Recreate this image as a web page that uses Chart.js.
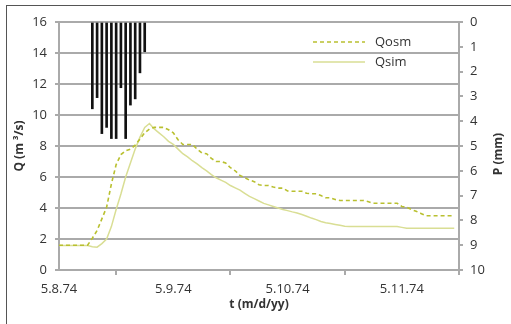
<!DOCTYPE html>
<html>
<head>
<meta charset="utf-8">
<script src="https://cdn.jsdelivr.net/npm/chart.js@4.4.0/dist/chart.umd.min.js"></script>
<style>
  body { margin: 0; background: #fff; }
  #wrap { position: relative; width: 511px; height: 324px; overflow: hidden; }
  #frame { position: absolute; left: 6px; top: 5px; width: 600px; height: 400px;
           border-top: 1px solid #555; border-left: 1px solid #555; }
  #c { position: absolute; left: 0; top: 0; }
</style>
</head>
<body>
<div id="wrap">
  <div id="frame"></div>
  <canvas id="c" width="511" height="324"></canvas>
</div>
<script>
// hours since 5.8.74 00:00
const hours = [0, 1, 2, 3, 4, 5, 6, 7, 8, 9, 10, 11, 12, 13, 14, 15, 16, 17, 18, 19,
  20, 21, 22, 23, 24, 25, 26, 27, 28, 29, 30, 31, 32, 33, 34, 35, 36, 37, 38, 39,
  40, 41, 42, 43, 44, 45, 46, 47, 48, 49, 50, 51, 52, 53, 54, 55, 56, 57, 58, 59,
  60, 61, 62, 63, 64, 65, 66, 67, 68, 69, 70, 71, 72, 73, 74, 75, 76, 77, 78, 79,
  80, 81, 82, 83];

const qosm = [1.6, 1.6, 1.6, 1.6, 1.6, 1.6, 1.6, 2.05, 2.55, 3.3,
  4.05, 5.55, 6.8, 7.45, 7.7, 7.8, 8.05, 8.45, 8.85, 9.1,
  9.2, 9.2, 9.2, 9.05, 8.85, 8.4, 8.1, 8.1, 8.1, 7.8,
  7.55, 7.5, 7.2, 7.0, 7.0, 6.9, 6.6, 6.4, 6.1, 5.95,
  5.8, 5.7, 5.5, 5.45, 5.45, 5.35, 5.28, 5.28, 5.1, 5.08,
  5.08, 5.08, 4.95, 4.92, 4.92, 4.8, 4.66, 4.66, 4.55, 4.48,
  4.48, 4.48, 4.48, 4.48, 4.48, 4.4, 4.31, 4.31, 4.31, 4.31,
  4.31, 4.31, 4.1, 4.05, 3.9, 3.79, 3.65, 3.5, 3.5, 3.5,
  3.5, 3.5, 3.5, 3.5];

const qsim = [1.58, 1.58, 1.58, 1.58, 1.58, 1.58, 1.58, 1.5, 1.47, 1.7,
  2.0, 2.8, 3.9, 4.9, 6.0, 6.9, 7.8, 8.57, 9.2, 9.45,
  9.1, 8.85, 8.6, 8.3, 8.1, 7.8, 7.5, 7.3, 7.05, 6.85,
  6.6, 6.4, 6.15, 5.95, 5.8, 5.65, 5.45, 5.3, 5.15, 4.95,
  4.75, 4.6, 4.45, 4.3, 4.2, 4.1, 4.0, 3.9, 3.83, 3.75,
  3.68, 3.58, 3.47, 3.35, 3.25, 3.13, 3.05, 3.0, 2.94, 2.88,
  2.82, 2.8, 2.8, 2.8, 2.8, 2.8, 2.8, 2.8, 2.8, 2.8,
  2.8, 2.8, 2.75, 2.7, 2.7, 2.7, 2.7, 2.7, 2.7, 2.7,
  2.7, 2.7, 2.7, 2.7];

// rainfall (mm per hour)
const rainHours = [7, 8, 9, 10, 11, 12, 13, 14, 15, 16, 17, 18];
const rainMm = [3.5, 3.05, 4.5, 4.25, 4.7, 4.7, 2.65, 4.7, 3.35, 3.1, 2.05, 1.2];

const dayTicks = [0, 24, 48, 72];
const dayLabels = ['5.8.74', '5.9.74', '5.10.74', '5.11.74'];

const FONT = "'Open Sans', sans-serif";
const TXT = '#333';
const GRID = '#aaaaaa';

const toXY = (xs, ys) => xs.map((x, i) => ({ x: x, y: ys[i] }));

const extras = {
  id: 'extras',
  afterDraw(chart) {
    const ctx = chart.ctx;
    const a = chart.chartArea;
    ctx.save();
    // legend inside plot
    const lx = a.left + 254, ly = a.top + 20;
    ctx.lineWidth = 1.5;
    ctx.strokeStyle = '#b9c030';
    ctx.setLineDash([4, 3]);
    ctx.beginPath(); ctx.moveTo(lx, ly); ctx.lineTo(lx + 52, ly); ctx.stroke();
    ctx.setLineDash([]);
    ctx.strokeStyle = '#d9de94';
    ctx.beginPath(); ctx.moveTo(lx, ly + 20); ctx.lineTo(lx + 52, ly + 20); ctx.stroke();
    ctx.fillStyle = TXT;
    ctx.font = '13px ' + FONT;
    ctx.textBaseline = 'middle';
    ctx.textAlign = 'left';
    ctx.fillText('Qosm', lx + 62, ly);
    ctx.fillText('Qsim', lx + 62, ly + 20);
    // right axis title, reading bottom to top
    ctx.font = 'bold 12px ' + FONT;
    ctx.translate(499, (a.top + a.bottom) / 2 + 8);
    ctx.rotate(-Math.PI / 2);
    ctx.textAlign = 'center';
    ctx.fillText('P (mm)', 0, 0);
    ctx.restore();
  }
};

new Chart(document.getElementById('c'), {
  type: 'line',
  data: {
    datasets: [
      {
        label: 'Qosm',
        data: toXY(hours, qosm),
        borderColor: '#b9c030',
        borderWidth: 1.6,
        borderDash: [4, 3],
        pointRadius: 0,
        tension: 0,
        yAxisID: 'y',
        order: 1
      },
      {
        label: 'Qsim',
        data: toXY(hours, qsim),
        borderColor: '#d9de94',
        borderWidth: 1.5,
        pointRadius: 0,
        tension: 0,
        yAxisID: 'y',
        order: 2
      },
      {
        type: 'bar',
        label: 'P',
        data: toXY(rainHours, rainMm),
        backgroundColor: '#111',
        barThickness: 2,
        yAxisID: 'y2',
        order: 3
      }
    ]
  },
  options: {
    responsive: false,
    animation: false,
    layout: { padding: { top: 22, left: 0, right: 0, bottom: 0 } },
    plugins: { legend: { display: false }, tooltip: { enabled: false } },
    scales: {
      x: {
        type: 'linear',
        min: 0,
        max: 84,
        offset: false,
        afterBuildTicks: s => { s.ticks = dayTicks.map(v => ({ value: v })); },
        afterFit: s => { s.height = 54; },
        ticks: {
          color: TXT,
          font: { family: FONT, size: 13 },
          padding: 6,
          maxRotation: 0,
          callback: v => dayLabels[dayTicks.indexOf(v)]
        },
        grid: { drawOnChartArea: false, drawTicks: true, tickLength: 5, color: GRID, lineWidth: 2 },
        border: { color: GRID, width: 2 },
        title: {
          display: true,
          text: 't (m/d/yy)',
          color: TXT,
          font: { family: FONT, size: 12, weight: 'bold' },
          padding: { top: 0, bottom: 12 }
        }
      },
      y: {
        position: 'left',
        min: 0,
        max: 16,
        afterFit: s => { s.width = 59; },
        ticks: { stepSize: 2, color: TXT, font: { family: FONT, size: 13 }, padding: 8 },
        grid: { color: GRID, lineWidth: 2, tickLength: 4 },
        border: { color: GRID, width: 2 },
        title: {
          display: true,
          text: 'Q (m ³/s)',
          color: TXT,
          font: { family: FONT, size: 12, weight: 'bold' },
          padding: { top: 12, bottom: 0 }
        }
      },
      y2: {
        position: 'right',
        reverse: true,
        min: 0,
        max: 10,
        afterFit: s => { s.width = 52; },
        ticks: { stepSize: 1, color: TXT, font: { family: FONT, size: 13 }, padding: 7 },
        grid: { drawOnChartArea: false, color: GRID, lineWidth: 2, tickLength: 4 },
        border: { color: GRID, width: 2 }
      }
    }
  },
  plugins: [extras]
});
</script>
</body>
</html>
